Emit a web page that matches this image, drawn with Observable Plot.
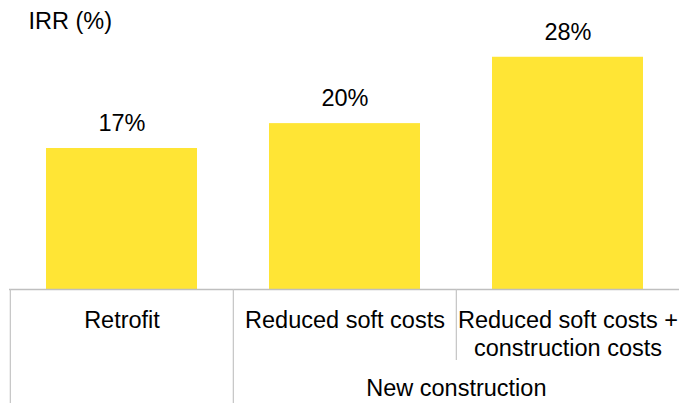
<!DOCTYPE html>
<html><head><meta charset="utf-8">
<script src="https://cdn.jsdelivr.net/npm/d3@7"></script>
<script src="https://cdn.jsdelivr.net/npm/@observablehq/plot@0.6"></script>
<style>body{margin:0;background:#fff}</style>
</head><body><div id="chart"></div>
<script>
const categories = ["Retrofit", "Reduced soft costs", "Reduced soft costs +\nconstruction costs"];
const irr = [17, 20, 28];
const valueLabels = ["17%", "20%", "28%"];
const groupLabels = ["New construction"];
const groupStart = [1];
const yTitle = "IRR (%)";

const W = 679, H = 403, mL = 9, mR = 0, mT = 7, mB = 114;
const FS = 23.5;
const FONT = "'Liberation Sans', Arial, sans-serif";
const xOpts = {type: "band", domain: categories, range: [mL, W - mR], paddingInner: 0.325, paddingOuter: 0.1625};
const yOpts = {type: "linear", domain: [0, 34], range: [H - mB, mT]};
const xs = Plot.scale({x: xOpts});
const ys = Plot.scale({y: yOpts});
const half = xs.step / 2;

const data = categories.map((c, i) => ({c, v: irr[i], label: valueLabels[i]}));
const dividers = [
  {c: categories[0], y2: ys.invert(H)},
  {c: categories[1], y2: ys.invert(H)},
  {c: categories[2], y2: ys.invert(360)}
];
const groups = groupLabels.map((g, i) => ({label: g, c: categories[groupStart[i] + 1]}));

const chart = Plot.plot({
  width: W, height: H,
  marginLeft: mL, marginRight: mR, marginTop: mT, marginBottom: mB,
  x: {...xOpts, axis: null},
  y: {...yOpts, axis: null},
  style: {fontFamily: FONT, fontSize: FS + "px", color: "#000", background: "#fff"},
  marks: [
    Plot.barY(data, {x: "c", y: "v", fill: "#ffe535"}),
    Plot.ruleY([0], {stroke: "#bfbfbf", strokeWidth: 1.5}),
    Plot.ruleX(dividers, {x: "c", y1: 0, y2: "y2", dx: -half, stroke: "#c4c4c4", strokeWidth: 1.2}),
    Plot.text(data, {x: "c", y: "v", text: "label", dy: -25, lineAnchor: "middle", fontSize: FS, fill: "#000"}),
    Plot.text(data, {x: "c", y: 0, text: "c", lineAnchor: "top", dy: 18, lineHeight: 1.2, fontSize: FS, fill: "#000"}),
    Plot.text(groups, {x: "c", y: 0, dx: -half, dy: 90, text: "label", lineAnchor: "top", fontSize: FS, fill: "#000"}),
    Plot.text([yTitle], {frameAnchor: "top-left", text: d => d, textAnchor: "start", lineAnchor: "top", dx: 19, dy: 5, fontSize: FS, fill: "#000"})
  ]
});
document.getElementById("chart").appendChild(chart);
</script>
</body></html>
